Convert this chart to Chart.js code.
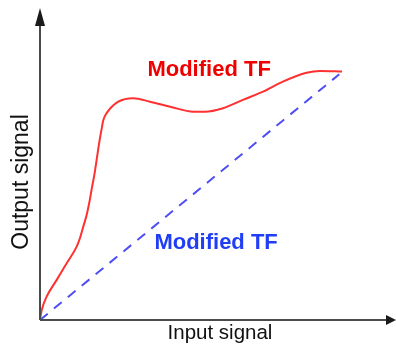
<!DOCTYPE html>
<html>
<head>
<meta charset="utf-8">
<script src="https://cdn.jsdelivr.net/npm/chart.js@4/dist/chart.umd.min.js"></script>
<style>
  html, body { margin: 0; padding: 0; background: #fff; }
  #wrap { position: relative; width: 396px; height: 345px; }
</style>
</head>
<body>
<div id="wrap"><canvas id="c"></canvas></div>
<script>
// ---- data (arbitrary units) ----
const modifiedX = [0, 0.05, 0.19, 0.48, 0.77, 1.05, 1.15, 1.24, 1.34, 1.42, 1.49, 1.57, 1.64, 1.71, 1.77, 1.82, 1.92, 2.25, 2.68, 3.16, 3.74, 4.41, 4.74, 5.26, 5.83, 6.41, 6.98, 7.66, 8.05, 8.68];
const modifiedY = [0, 0.34, 0.79, 1.36, 1.93, 2.48, 2.78, 3.15, 3.56, 4.00, 4.47, 4.98, 5.53, 6.07, 6.47, 6.78, 7.02, 7.40, 7.52, 7.40, 7.23, 7.06, 7.06, 7.18, 7.46, 7.74, 8.08, 8.38, 8.44, 8.42];
const linearX = [0, 8.60];
const linearY = [0, 8.33];
const seriesLabels = ['Modified TF', 'Modified TF'];
const axisTitles = { x: 'Input signal', y: 'Output signal' };

const toPts = (xs, ys) => xs.map((x, i) => ({ x: x, y: ys[i] }));

const overlay = {
  id: 'overlay',
  afterDraw(chart) {
    const ctx = chart.ctx;
    const a = chart.chartArea;
    const xs = chart.scales.x, ys = chart.scales.y;
    ctx.save();
    // axes
    ctx.strokeStyle = '#4a4a4a';
    ctx.fillStyle = '#1a1a1a';
    ctx.lineWidth = 2;
    ctx.beginPath();
    ctx.moveTo(a.left, a.bottom);
    ctx.lineTo(a.left, a.top);
    ctx.moveTo(a.left, a.bottom);
    ctx.lineTo(a.right, a.bottom);
    ctx.stroke();
    // arrow heads
    ctx.beginPath();
    ctx.moveTo(a.left, a.top - 17);
    ctx.lineTo(a.left - 5, a.top + 1);
    ctx.lineTo(a.left + 5, a.top + 1);
    ctx.closePath();
    ctx.fill();
    ctx.beginPath();
    ctx.moveTo(a.right + 8, a.bottom);
    ctx.lineTo(a.right - 2, a.bottom - 5);
    ctx.lineTo(a.right - 2, a.bottom + 5);
    ctx.closePath();
    ctx.fill();
    // axis titles
    ctx.fillStyle = '#111';
    ctx.textAlign = 'center';
    ctx.textBaseline = 'middle';
    ctx.font = '20.5px "Liberation Sans", Arial, sans-serif';
    ctx.fillText(axisTitles.x, 220, 333);
    ctx.save();
    ctx.translate(22, 182);
    ctx.rotate(-Math.PI / 2);
    ctx.font = '23px "Liberation Sans", Arial, sans-serif';
    ctx.fillText(axisTitles.y, 0, 0);
    ctx.restore();
    // series labels
    ctx.font = 'bold 22px "Liberation Sans", Arial, sans-serif';
    ctx.fillStyle = '#f00000';
    ctx.fillText(seriesLabels[0], xs.getPixelForValue(4.86), ys.getPixelForValue(8.49));
    ctx.fillStyle = '#1f3ef5';
    ctx.fillText(seriesLabels[1], xs.getPixelForValue(5.06), ys.getPixelForValue(2.61));
    ctx.restore();
  }
};

new Chart(document.getElementById('c'), {
  type: 'scatter',
  data: {
    datasets: [
      {
        label: seriesLabels[0],
        data: toPts(modifiedX, modifiedY),
        showLine: true,
        borderColor: '#ff3030',
        borderWidth: 2,
        pointRadius: 0,
        cubicInterpolationMode: 'monotone',
        fill: false
      },
      {
        label: seriesLabels[1],
        data: toPts(linearX, linearY),
        showLine: true,
        borderColor: '#4e4ef5',
        borderWidth: 2,
        borderDash: [10, 8],
        pointRadius: 0,
        fill: false
      }
    ]
  },
  options: {
    responsive: true,
    maintainAspectRatio: false,
    animation: false,
    layout: { padding: { left: 40, right: 8, top: 25, bottom: 25 } },
    plugins: { legend: { display: false }, tooltip: { enabled: false } },
    scales: {
      x: { type: 'linear', display: false, min: 0, max: 10 },
      y: { type: 'linear', display: false, min: 0, max: 10 }
    }
  },
  plugins: [overlay]
});
</script>
</body>
</html>
